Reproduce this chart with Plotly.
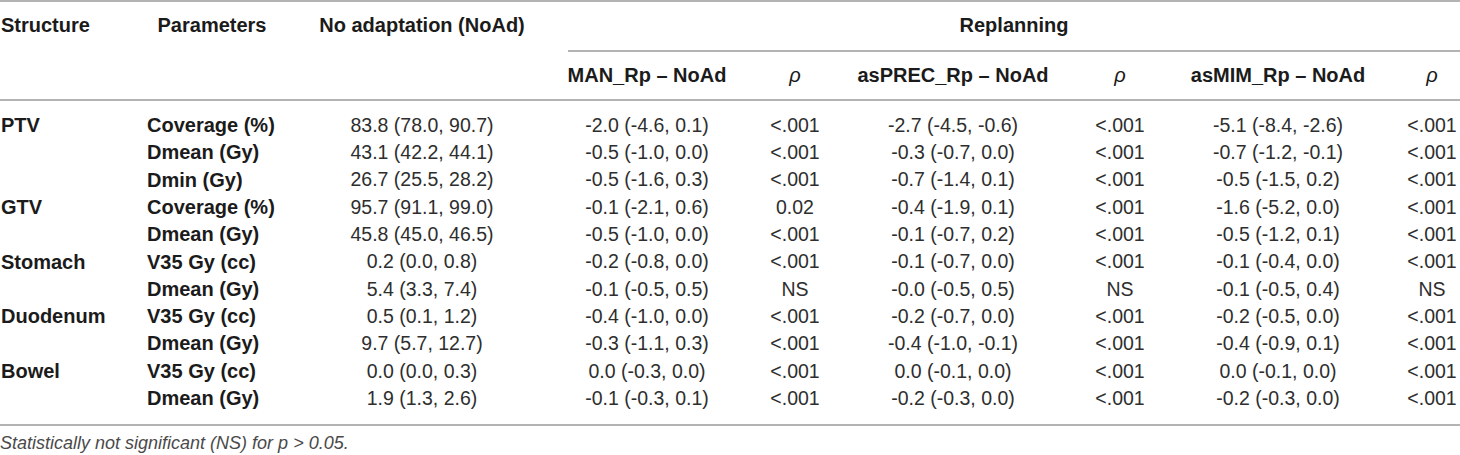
import plotly.graph_objects as go

# table content
structures = ["PTV", "", "", "GTV", "", "Stomach", "", "Duodenum", "", "Bowel", ""]
parameters = ["Coverage (%)", "Dmean (Gy)", "Dmin (Gy)", "Coverage (%)", "Dmean (Gy)",
              "V35 Gy (cc)", "Dmean (Gy)", "V35 Gy (cc)", "Dmean (Gy)", "V35 Gy (cc)", "Dmean (Gy)"]
noad = ["83.8 (78.0, 90.7)", "43.1 (42.2, 44.1)", "26.7 (25.5, 28.2)", "95.7 (91.1, 99.0)",
        "45.8 (45.0, 46.5)", "0.2 (0.0, 0.8)", "5.4 (3.3, 7.4)", "0.5 (0.1, 1.2)",
        "9.7 (5.7, 12.7)", "0.0 (0.0, 0.3)", "1.9 (1.3, 2.6)"]
man_rp = ["-2.0 (-4.6, 0.1)", "-0.5 (-1.0, 0.0)", "-0.5 (-1.6, 0.3)", "-0.1 (-2.1, 0.6)",
          "-0.5 (-1.0, 0.0)", "-0.2 (-0.8, 0.0)", "-0.1 (-0.5, 0.5)", "-0.4 (-1.0, 0.0)",
          "-0.3 (-1.1, 0.3)", "0.0 (-0.3, 0.0)", "-0.1 (-0.3, 0.1)"]
man_p = ["<.001", "<.001", "<.001", "0.02", "<.001", "<.001", "NS", "<.001", "<.001", "<.001", "<.001"]
prec_rp = ["-2.7 (-4.5, -0.6)", "-0.3 (-0.7, 0.0)", "-0.7 (-1.4, 0.1)", "-0.4 (-1.9, 0.1)",
           "-0.1 (-0.7, 0.2)", "-0.1 (-0.7, 0.0)", "-0.0 (-0.5, 0.5)", "-0.2 (-0.7, 0.0)",
           "-0.4 (-1.0, -0.1)", "0.0 (-0.1, 0.0)", "-0.2 (-0.3, 0.0)"]
prec_p = ["<.001", "<.001", "<.001", "<.001", "<.001", "<.001", "NS", "<.001", "<.001", "<.001", "<.001"]
mim_rp = ["-5.1 (-8.4, -2.6)", "-0.7 (-1.2, -0.1)", "-0.5 (-1.5, 0.2)", "-1.6 (-5.2, 0.0)",
          "-0.5 (-1.2, 0.1)", "-0.1 (-0.4, 0.0)", "-0.1 (-0.5, 0.4)", "-0.2 (-0.5, 0.0)",
          "-0.4 (-0.9, 0.1)", "0.0 (-0.1, 0.0)", "-0.2 (-0.3, 0.0)"]
mim_p = ["<.001", "<.001", "<.001", "<.001", "<.001", "<.001", "NS", "<.001", "<.001", "<.001", "<.001"]

header_top = ["Structure", "Parameters", "No adaptation (NoAd)"]
group_label = "Replanning"
header_sub = ["MAN_Rp – NoAd", "<i>ρ</i>", "asPREC_Rp – NoAd", "<i>ρ</i>", "asMIM_Rp – NoAd", "<i>ρ</i>"]
footnote = "Statistically not significant (NS) for <i>p</i> > 0.05."

# layout in pixels (axes are mapped 1:1 onto the 1460x455 canvas)
W, H = 1460, 455
row_y = [127 + 27.3 * i for i in range(len(parameters))]
col_x = {"struct": 1, "param": 147, "noad": 422, "man": 647, "man_p": 795,
         "prec": 953, "prec_p": 1120, "mim": 1278, "mim_p": 1432}
grp_left = 568
FONT = "Liberation Sans, Arial, Helvetica, sans-serif"
INK = "#1b1b1b"
BODY = "#2e2e2e"
RULE = "#b3b3b3"

fig = go.Figure()


def text_col(x, ys, texts, pos="middle center", size=19.5, color=BODY, bold=False):
    if bold:
        texts = ["<b>%s</b>" % t if t else "" for t in texts]
    fig.add_trace(go.Scatter(
        x=[x] * len(texts), y=ys, text=texts, mode="text",
        textposition=pos, textfont=dict(family=FONT, size=size, color=color),
        hoverinfo="skip", showlegend=False))


# body
text_col(col_x["struct"], row_y, structures, "middle right", 20, INK, bold=True)
text_col(col_x["param"], row_y, parameters, "middle right", 20, INK, bold=True)
for key, vals in [("noad", noad), ("man", man_rp), ("man_p", man_p), ("prec", prec_rp),
                  ("prec_p", prec_p), ("mim", mim_rp), ("mim_p", mim_p)]:
    text_col(col_x[key], row_y, vals)

# headers
text_col(col_x["struct"], [27], [header_top[0]], "middle right", 20, INK, bold=True)
text_col(212, [27], [header_top[1]], size=20, color=INK, bold=True)
text_col(col_x["noad"], [27], [header_top[2]], size=20, color=INK, bold=True)
text_col((grp_left + W) / 2, [27], [group_label], size=20, color=INK, bold=True)
for key, lab in zip(["man", "man_p", "prec", "prec_p", "mim", "mim_p"], header_sub):
    bold = not lab.startswith("<i>")
    text_col(col_x[key], [77], [lab], size=20, color=INK, bold=bold)

# footnote (italic)
text_col(0, [444], ["<i>" + footnote + "</i>"], "middle right", 18, "#4a4a4a")

# rules
for y0, x0 in [(1, 0), (51, grp_left), (100, 0), (425, 0)]:
    fig.add_shape(type="line", x0=x0, x1=W, y0=y0, y1=y0, xref="x", yref="y",
                  line=dict(color=RULE, width=2))

fig.update_layout(
    width=W, height=H,
    margin=dict(l=0, r=0, t=0, b=0),
    paper_bgcolor="white", plot_bgcolor="white",
    xaxis=dict(range=[0, W], visible=False, fixedrange=True),
    yaxis=dict(range=[H, 0], visible=False, fixedrange=True),
)

# page has a default 8px body margin that would push the 1460x455 figure off-window
fig.write_html("out.html",
               config={"displayModeBar": False, "staticPlot": True},
               post_script="document.body.style.margin='0';document.body.style.overflow='hidden';")
